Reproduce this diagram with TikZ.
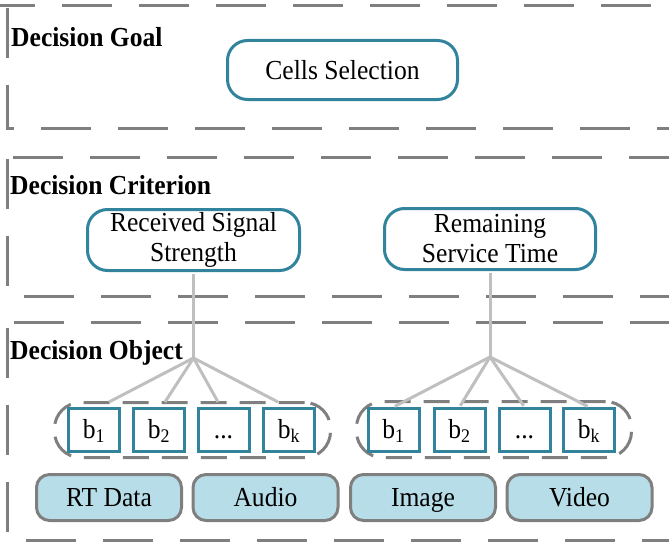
\documentclass[tikz,border=0pt]{standalone}
\usepackage{fontspec}
\setmainfont{Liberation Serif}[FakeStretch=0.93]
\definecolor{tealline}{HTML}{31849B}
\definecolor{framegray}{HTML}{7F7F7F}
\definecolor{linkgray}{HTML}{BFBFBF}
\definecolor{mediafill}{HTML}{B7DEE8}
\newcommand{\labelsize}{\fontsize{27.5}{30}\selectfont}
\tikzset{
  frame/.style={draw=framegray, line width=3pt, dash pattern=on 50pt off 27pt},
  heading/.style={anchor=west, inner sep=0pt, font=\bfseries\labelsize},
  criterion/.style={draw=tealline, line width=3pt, rounded corners=20pt, fill=white,
    align=center, inner sep=0pt, font=\labelsize},
  bitbox/.style={draw=tealline, line width=3pt, fill=white, minimum width=51pt,
    minimum height=43pt, inner sep=0pt, text height=19pt, text depth=3pt, font=\labelsize},
  bitgroup/.style={draw=framegray, line width=3pt, dash pattern=on 26pt off 13pt,
    rounded corners=26pt, inner sep=0pt},
  media/.style={draw=framegray, line width=3pt, fill=mediafill, rounded corners=13pt,
    minimum width=145pt, minimum height=46pt, inner sep=0pt, text height=19pt,
    text depth=1pt, font=\labelsize},
  link/.style={draw=linkgray, line width=3pt},
}
\begin{document}
\begin{tikzpicture}[x=1pt, y=-1pt]
\path[use as bounding box] (0,0) rectangle (669,543);

% dashed layer frames (open to the right)
\begin{scope}
  \clip (0,0) rectangle (669,543);
  \draw[frame] (7,8) -- (7,128) -- (700,128);
  \draw[frame] (-15,6) -- (700,6);
  \draw[frame] (7,159) -- (7,296) -- (700,296);
  \draw[frame] (13,157) -- (700,157);
  \draw[frame] (7,328) -- (7,540) -- (700,540);
  \draw[frame] (14,322) -- (700,322);
\end{scope}

% layer headings
\node[heading] (hgoal) at (11,37) {Decision Goal};
\node[heading] (hcrit) at (10,185) {Decision Criterion};
\node[heading] (hobj)  at (10,353) {Decision Object};

% goal and criteria
\node[criterion, minimum width=230pt, minimum height=59pt] (goal) at (342.5,70) {Cells Selection};
\node[criterion, minimum width=212pt, minimum height=61pt] (rss) at (193.5,240) {Received Signal\\Strength};
\node[criterion, minimum width=211pt, minimum height=61pt] (rst) at (490,239) {Remaining\\Service Time};

% groups of objects
\node[bitgroup, minimum width=276pt, minimum height=55pt] (grpL) at (192.5,430) {};
\node[bitgroup, minimum width=275pt, minimum height=56pt] (grpR) at (494,429.5) {};

\node[bitbox] (lb1) at (94,430)    {b\textsubscript{1}};
\node[bitbox] (lb2) at (159,430)   {b\textsubscript{2}};
\node[bitbox] (lb3) at (223.5,430) {...};
\node[bitbox] (lbk) at (289,430)   {b\textsubscript{k}};

\node[bitbox] (rb1) at (393.5,430) {b\textsubscript{1}};
\node[bitbox] (rb2) at (459.5,430) {b\textsubscript{2}};
\node[bitbox] (rb3) at (524.5,430) {...};
\node[bitbox] (rbk) at (589,430)   {b\textsubscript{k}};

% traffic types
\node[media] (rtdata) at (109,497.5)   {RT Data};
\node[media] (audio)  at (265.5,497.5) {Audio};
\node[media] (image)  at (423,497.5)   {Image};
\node[media] (video)  at (579.5,497.5) {Video};

% connectors
\coordinate (jL) at (193.5,358);
\coordinate (jR) at (490,357);
\coordinate (eL1) at (109,402);
\coordinate (eL2) at (165,402);
\coordinate (eL3) at (218,402);
\coordinate (eL4) at (278,402);

\draw[link, shorten <=1.5pt] (rss.south) -- (jL);
\draw[link] (jL) -- (eL1);
\draw[link] (jL) -- (eL2);
\draw[link] (jL) -- (eL3);
\draw[link] (jL) -- (eL4);

\draw[link, shorten <=1.5pt] (rst.south) -- (jR);
\draw[link, shorten >=1.5pt] (jR) -- (rb1.north);
\draw[link, shorten >=1.5pt] (jR) -- (rb2.north);
\draw[link, shorten >=1.5pt] (jR) -- (rb3.north);
\draw[link, shorten >=1.5pt] (jR) -- (rbk.north);
\end{tikzpicture}
\end{document}
